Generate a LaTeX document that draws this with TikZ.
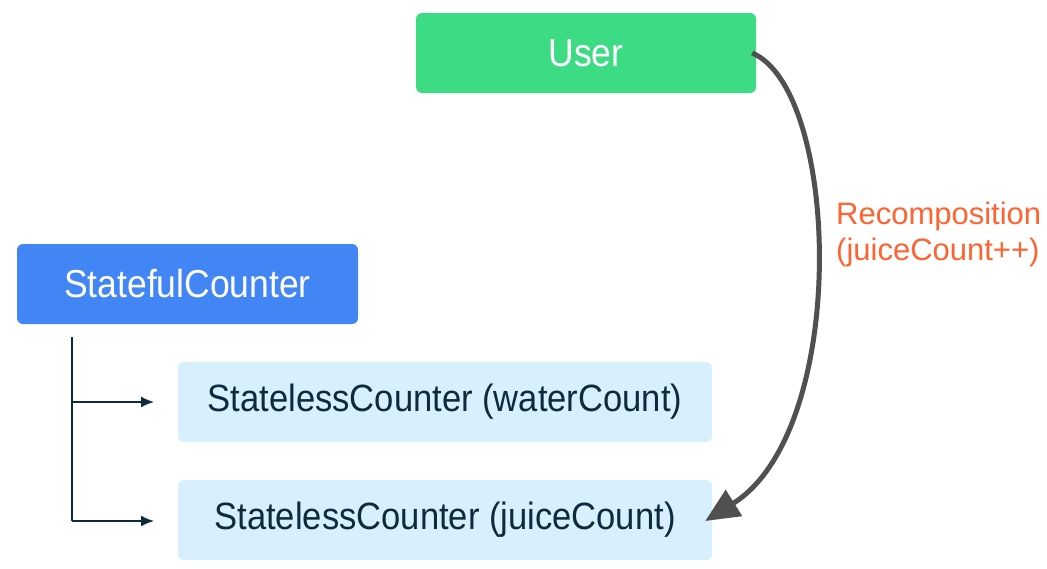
\documentclass[tikz,border=0pt]{standalone}
\usepackage{fontspec}
\usetikzlibrary{arrows.meta}
\newfontfamily\boxfont[FakeStretch=0.91]{Liberation Sans}
\newfontfamily\labfont{Liberation Sans}
\definecolor{usergreen}{HTML}{3DDC84}
\definecolor{sfblue}{HTML}{4285F4}
\definecolor{slblue}{HTML}{D8F0FD}
\definecolor{navy}{HTML}{0E2A3D}
\definecolor{orangelab}{HTML}{FF6330}
\definecolor{arrowgray}{HTML}{505050}
\tikzset{
  boxbase/.style={rectangle, rounded corners=6pt, minimum height=80pt, inner sep=0pt,
    font=\boxfont\fontsize{39}{44}\selectfont},
  userbox/.style={boxbase, fill=usergreen, text=white, minimum width=340pt},
  sfbox/.style={boxbase, fill=sfblue, text=white, minimum width=341pt},
  slbox/.style={boxbase, fill=slblue, text=navy, minimum width=534pt,
    font=\boxfont\fontsize{38}{44}\selectfont},
  treeline/.style={draw=navy, line width=1.6pt},
  treearrow/.style={treeline, -{Latex[length=13pt,width=11pt]}},
  recomp/.style={draw=arrowgray, line width=5pt, -{Triangle[length=34pt,width=30pt]}},
  labstyle/.style={text=orangelab, align=left, inner sep=0pt,
    font=\labfont\fontsize{31}{36}\selectfont}
}
\begin{document}
\begin{tikzpicture}[x=1pt,y=-1pt]
\useasboundingbox (0,0) rectangle (1047,568);
\node[userbox] (user) at (586,53) {User};
\node[sfbox] (sf) at (187.5,284) {StatefulCounter};
\node[slbox] (water) at (445,402) {StatelessCounter (waterCount)};
\node[slbox] (juice) at (445,520) {StatelessCounter (juiceCount)};
\coordinate (top) at (72,337);
\coordinate (j1) at (72,402);
\coordinate (j2) at (72,521);
\coordinate (t1) at (154,402);
\coordinate (t2) at (154,521);
\draw[treeline] (top) -- (j2);
\draw[treearrow] (j1) -- (t1);
\draw[treearrow] (j2) -- (t2);
\draw[recomp] ([xshift=-4pt]user.east) .. controls (840,90) and (850,430) .. ([xshift=-7pt,yshift=-1pt]juice.east);
\node[labstyle, anchor=north west] (lab) at (836,202) {Recomposition\\(juiceCount++)};
\end{tikzpicture}
\end{document}
